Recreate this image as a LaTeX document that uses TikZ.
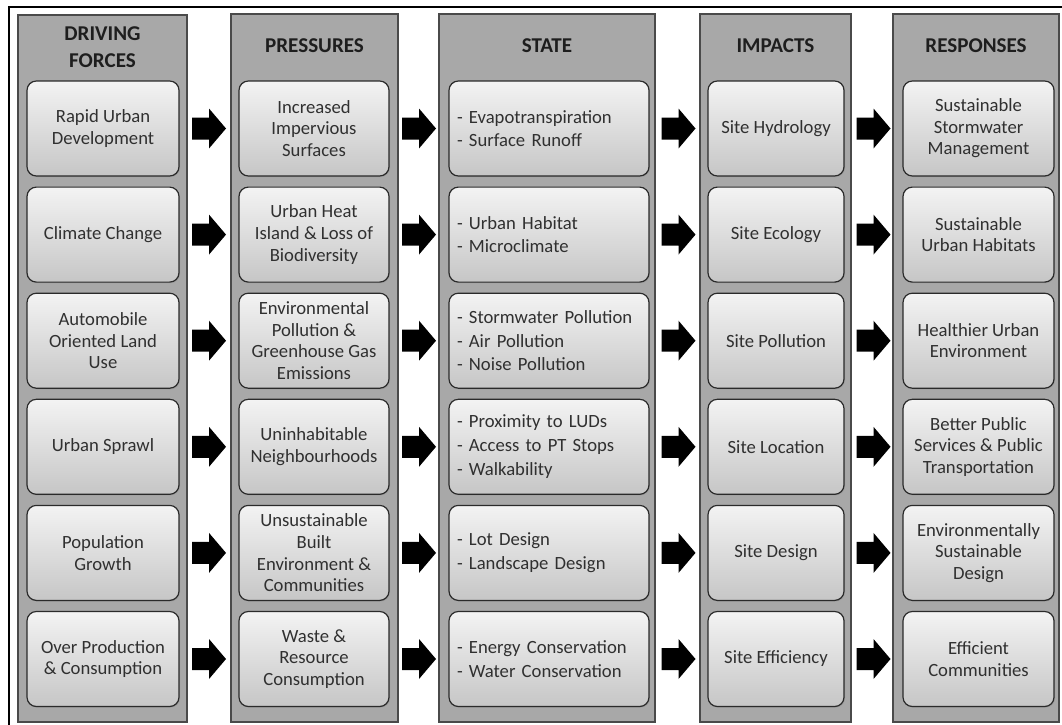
\documentclass[tikz,border=0pt]{standalone}
\usepackage{fontspec}
\setmainfont{Carlito}
\usetikzlibrary{calc,shadows}
\definecolor{colfill}{HTML}{A8A8A8}
\definecolor{coledge}{HTML}{4A4A4A}
\definecolor{boxtop}{HTML}{F3F3F3}
\definecolor{boxbot}{HTML}{C6C6C6}
\definecolor{boxedge}{HTML}{2A2A2A}
\definecolor{txt}{HTML}{303030}
\definecolor{headtxt}{HTML}{1E1E1E}

% Block arrow centred between two cards of the same row
\newcommand\flowarrow[2]{%
  \fill[black] ($(#1.east)!0.5!(#2.west)$) ++(-17,-11) -- ++(17,0) -- ++(0,-9)
    -- ++(17,20) -- ++(-17,20) -- ++(0,-9) -- ++(-17,0) -- cycle;}

\begin{document}
\begin{tikzpicture}[x=0.75pt,y=-0.75pt,
  column/.style={fill=colfill,draw=coledge,line width=1.1pt},
  header/.style={font=\fontsize{15.8}{20.5}\selectfont\bfseries,text=headtxt,align=center,inner sep=0pt},
  card/.style={draw=boxedge,line width=0.9pt,rounded corners=7pt,
    top color=boxtop,bottom color=boxbot,
    drop shadow={opacity=0.3,shadow xshift=0.8pt,shadow yshift=-0.8pt},
    minimum height=71.25pt,minimum width=#1,inner sep=0pt,text=txt,
    font=\fontsize{14}{16.2}\selectfont,align=center},
  listcard/.style={card=#1,text width=#1-12pt,inner xsep=6pt,align=left,
    font=\fontsize{14}{17.8}\selectfont}
]
\useasboundingbox (0,0) rectangle (1062,724);

% outer frame
\begin{scope}
  \clip (0,0) rectangle (1062,724);
  \draw[line width=1.8pt] (9,7) rectangle (1075,740);
\end{scope}

% columns
\draw[column] (18,15) rectangle (187,722);
\draw[column] (231,14) rectangle (398,722);
\draw[column] (439,14) rectangle (655,722);
\draw[column] (700,14) rectangle (851,722);
\draw[column] (893,14) rectangle (1059,722);

% headers
\node[header] (hd) at (102.5,47) {DRIVING\\FORCES};
\node[header] (hp) at (314.5,46) {PRESSURES};
\node[header] (hs) at (547,46) {STATE};
\node[header] (hi) at (775.5,46) {IMPACTS};
\node[header] (hr) at (976,46) {RESPONSES};

% driving forces
\node[card=114pt] (d1) at (103,128.5) {Rapid Urban\\Development};
\node[card=114pt] (d2) at (103,234.6) {Climate Change};
\node[card=114pt] (d3) at (103,340.7) {Automobile\\Oriented Land\\Use};
\node[card=114pt] (d4) at (103,446.8) {Urban Sprawl};
\node[card=114pt] (d5) at (103,552.9) {Population\\Growth};
\node[card=114pt] (d6) at (103,659) {Over Production\\\& Consumption};

% pressures
\node[card=112.5pt] (p1) at (314,128.5) {Increased\\Impervious\\Surfaces};
\node[card=112.5pt] (p2) at (314,234.6) {Urban Heat\\Island \& Loss of\\Biodiversity};
\node[card=112.5pt] (p3) at (314,340.7) {Environmental\\Pollution \&\\Greenhouse Gas\\Emissions};
\node[card=112.5pt] (p4) at (314,446.8) {Uninhabitable\\Neighbourhoods};
\node[card=112.5pt] (p5) at (314,552.9) {Unsustainable\\Built\\Environment \&\\Communities};
\node[card=112.5pt] (p6) at (314,659) {Waste \&\\Resource\\Consumption};

% state
\node[listcard=150pt] (s1) at (549,128.5) {- Evapotranspiration\\- Surface Runoff};
\node[listcard=150pt] (s2) at (549,234.6) {- Urban Habitat\\- Microclimate};
\node[listcard=150pt] (s3) at (549,340.7) {- Stormwater Pollution\\- Air Pollution\\- Noise Pollution};
\node[listcard=150pt] (s4) at (549,446.8) {- Proximity to LUDs\\- Access to PT Stops\\- Walkability};
\node[listcard=150pt] (s5) at (549,552.9) {- Lot Design\\- Landscape Design};
\node[listcard=150pt] (s6) at (549,659) {- Energy Conservation\\- Water Conservation};

% impacts
\node[card=102pt] (i1) at (776,128.5) {Site Hydrology};
\node[card=102pt] (i2) at (776,234.6) {Site Ecology};
\node[card=102pt] (i3) at (776,340.7) {Site Pollution};
\node[card=102pt] (i4) at (776,446.8) {Site Location};
\node[card=102pt] (i5) at (776,552.9) {Site Design};
\node[card=102pt] (i6) at (776,659) {Site Efficiency};

% responses
\node[card=113.25pt] (r1) at (978.5,128.5) {Sustainable\\Stormwater\\Management};
\node[card=113.25pt] (r2) at (978.5,234.6) {Sustainable\\Urban Habitats};
\node[card=113.25pt] (r3) at (978.5,340.7) {Healthier Urban\\Environment};
\node[card=113.25pt] (r4) at (978.5,446.8) {Better Public\\Services \& Public\\Transportation};
\node[card=113.25pt] (r5) at (978.5,552.9) {Environmentally\\Sustainable\\Design};
\node[card=113.25pt] (r6) at (978.5,659) {Efficient\\Communities};

% arrows between the stages
\foreach \k in {1,...,6}{
  \flowarrow{d\k}{p\k}
  \flowarrow{p\k}{s\k}
  \flowarrow{s\k}{i\k}
  \flowarrow{i\k}{r\k}
}
\end{tikzpicture}
\end{document}
